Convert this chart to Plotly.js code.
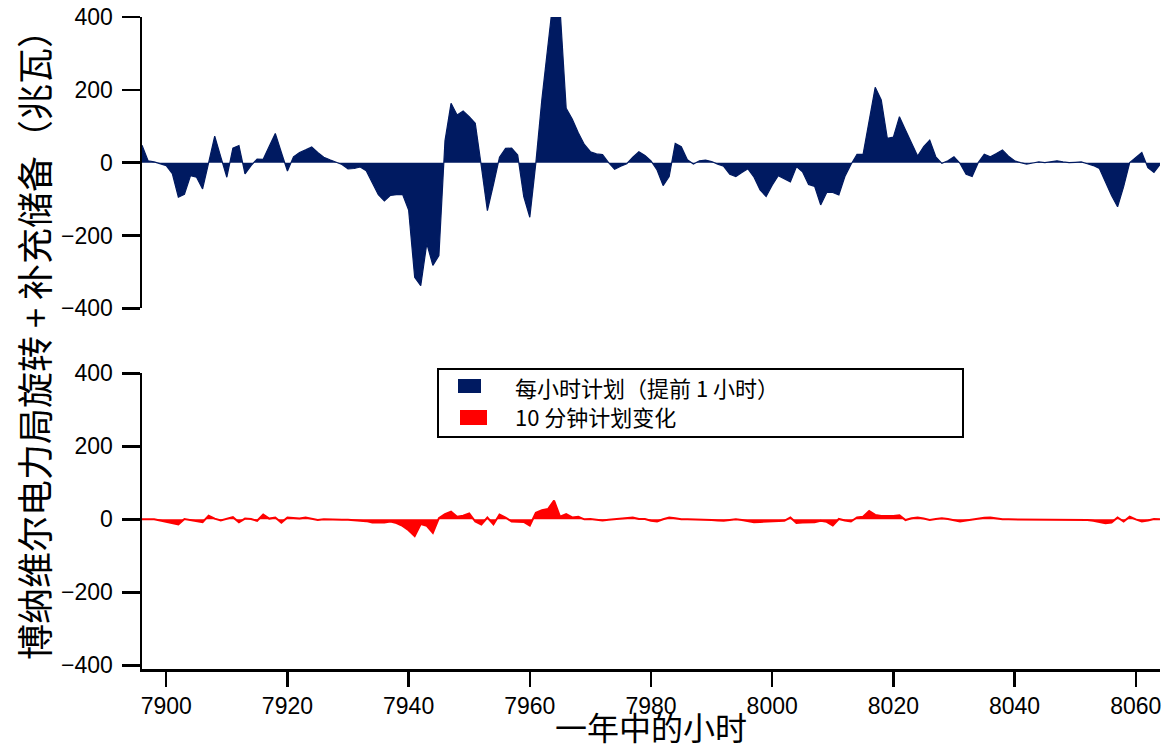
<!DOCTYPE html>
<html>
<head>
<meta charset="utf-8">
<script src="https://cdn.plot.ly/plotly-3.0.1.min.js"></script>
<style>
  html, body { margin: 0; padding: 0; background: #ffffff; }
  #chart { width: 1167px; height: 749px; }
</style>
</head>
<body>
<div id="chart"></div>
<script>
// Hour of the year covered by both panels
const startHour = 7896;

// Hourly schedule (1 hour ahead), MW, one value per hour from startHour
const hourlySchedule = [
  48, 5, 2, -2, -8, -30, -95, -87, -36, -40,
  -72, 0, 73, 16, -40, 40, 47, -31, -8, 10,
  9, 45, 80, 28, -23, 16, 28, 35, 43, 28,
  15, 8, 2, -5, -17, -16, -12, -22, -55, -88,
  -105, -90, -88, -87, -130, -315, -338, -222, -282, -255,
  60, 163, 131, 142, 126, 108, -10, -132, -60, 15,
  39, 40, 21, -93, -150, 0, 175, 330, 470, 420,
  149, 120, 82, 50, 30, 24, 22, 0, -18, -10,
  -3, 15, 30, 20, 5, -20, -63, -38, 53, 44,
  8, -4, 5, 7, 3, -4, -10, -32, -38, -27,
  -17, -40, -75, -93, -62, -36, -45, -53, -11, -25,
  -60, -65, -116, -82, -82, -89, -38, -5, 23, 23,
  115, 207, 172, 67, 70, 126, 90, 55, 18, 44,
  62, 16, -2, 5, 16, -2, -32, -38, 0, 23,
  16, 25, 35, 18, 5, 0, -4, -1, 2, 0,
  3, 5, 2, 0, 1, 2, -3, -8, -16, -55,
  -90, -121, -66, 0, 14, 28, -14, -27, -5
];

// 10-minute schedule change, MW, one value per hour from startHour
const tenMinuteChange = [
  0, 0, 0, -3, -6, -10, -14, 1, -2, -5,
  -8, 10, 2, -3, 2, 6, -8, 2, 1, -4,
  13, 2, 5, -9, 5, 3, 2, 5, 1, -2,
  0, -1, 0, -1, -1, -2, -2, -5, -9, -9,
  -9, -6, -10, -18, -30, -46, -13, -18, -37, 3,
  14, 21, 7, 10, 16, -6, -14, 5, -14, 13,
  5, -6, -6, -7, -17, 18, 25, 28, 51, 7,
  14, 5, 7, 0, 1, -1, -3, -1, 1, 2,
  3, 5, 1, 1, -4, -6, 0, 5, 3, 0,
  0, 0, 0, -1, -2, -3, -4, -2, 0, -2,
  -6, -8, -7, -6, -5, -4, -4, 5, -10, -9,
  -9, -8, -4, -7, -17, 1, -3, -6, 5, 7,
  23, 12, 9, 8, 9, 11, -2, 3, 5, 2,
  -2, 1, 3, 1, -2, -6, -3, 0, 2, 4,
  5, 2, 0, 0, 0, 0, 0, 0, 0, 0,
  0, 0, 0, 0, 0, 0, -2, -4, -7, -11,
  -9, 5, -6, 7, 0, -6, -3, 1, 0
];

const hours = hourlySchedule.map((_, i) => startHour + i);

// Axis ticks and labels
const xTickValues = [7900, 7920, 7940, 7960, 7980, 8000, 8020, 8040, 8060];
const yTickValues = [-400, -200, 0, 200, 400];

const seriesNames = ['每小时计划（提前 1 小时）', '10 分钟计划变化'];
const yTitleText = '博纳维尔电力局旋转 + 补充储备（兆瓦）';
const xTitleText = '一年中的小时';

const navy = '#001a61';
const red = '#ff0000';

// Page geometry (px)
const W = 1167, H = 749;
const M = { l: 142, r: 7, t: 17, b: 80 };
const plotW = W - M.l - M.r, plotH = H - M.t - M.b;
const px = x => (x - M.l) / plotW;            // page x -> paper x
const py = y => (H - M.b - y) / plotH;        // page y -> paper y

const latin = 'Liberation Sans, Arial, sans-serif';
const cjk = 'Noto Sans CJK SC, Liberation Sans, sans-serif';

const traces = [
  {
    x: hours, y: hourlySchedule, xaxis: 'x', yaxis: 'y',
    type: 'scatter', mode: 'lines', fill: 'tozeroy',
    line: { color: navy, width: 1.2 }, fillcolor: navy,
    name: seriesNames[0], showlegend: false, hoverinfo: 'x+y'
  },
  {
    x: hours, y: tenMinuteChange, xaxis: 'x2', yaxis: 'y2',
    type: 'scatter', mode: 'lines', fill: 'tozeroy',
    line: { color: red, width: 2 }, fillcolor: red,
    name: seriesNames[1], showlegend: false, hoverinfo: 'x+y'
  }
];

const yCommon = {
  tickvals: yTickValues,
  ticks: 'outside', ticklen: 18, tickwidth: 2.5, tickcolor: '#000',
  ticklabelstandoff: 4,
  showline: true, linewidth: 2.5, linecolor: '#000',
  showgrid: false, zeroline: false,
  tickfont: { family: latin, size: 23, color: '#000' },
  fixedrange: true
};

const layout = {
  width: W, height: H,
  margin: M,
  paper_bgcolor: '#fff', plot_bgcolor: '#fff',
  showlegend: false,
  xaxis: {
    domain: [0, 1], range: [7896, 8064], anchor: 'y',
    matches: 'x2', showline: false, showticklabels: false, ticks: '',
    showgrid: false, zeroline: false
  },
  yaxis: Object.assign({}, yCommon, {
    domain: [py(308.3), 1], range: [-400, 400], anchor: 'x'
  }),
  xaxis2: {
    domain: [0, 1], range: [7896, 8064], anchor: 'y2',
    tickvals: xTickValues,
    ticks: 'outside', ticklen: 15, tickwidth: 2.5, tickcolor: '#000',
    showline: true, linewidth: 2.5, linecolor: '#000',
    showgrid: false, zeroline: false,
    tickfont: { family: latin, size: 23, color: '#000' }
  },
  yaxis2: Object.assign({}, yCommon, {
    domain: [0, py(373.3)], range: [-410, 400], anchor: 'x2'
  }),
  annotations: [
    {
      text: yTitleText, textangle: -90,
      xref: 'paper', yref: 'paper', x: px(33), y: py(336),
      xanchor: 'center', yanchor: 'middle', showarrow: false,
      font: { family: cjk, size: 36, color: '#000' }
    },
    {
      text: xTitleText,
      xref: 'paper', yref: 'paper', x: px(651), y: py(726),
      xanchor: 'center', yanchor: 'middle', showarrow: false,
      font: { family: cjk, size: 32, color: '#000' }
    },
    // legend entries, one line per series
    {
      text: seriesNames.join('<br>'), align: 'left',
      xref: 'paper', yref: 'paper', x: px(513), y: py(401.5),
      xanchor: 'left', yanchor: 'middle', showarrow: false,
      font: { family: cjk, size: 22, color: '#000' }
    }
  ],
  shapes: [
    // legend frame
    {
      type: 'rect', xref: 'paper', yref: 'paper',
      x0: px(438), x1: px(963), y0: py(437), y1: py(369),
      line: { color: '#000', width: 2 }, fillcolor: '#fff', layer: 'above'
    },
    // legend swatches
    {
      type: 'rect', xref: 'paper', yref: 'paper',
      x0: px(458), x1: px(481), y0: py(393), y1: py(379),
      line: { width: 0 }, fillcolor: navy, layer: 'above'
    },
    {
      type: 'rect', xref: 'paper', yref: 'paper',
      x0: px(460), x1: px(487), y0: py(425), y1: py(410),
      line: { width: 0 }, fillcolor: red, layer: 'above'
    }
  ]
};

Plotly.newPlot('chart', traces, layout, { displayModeBar: false, staticPlot: true });
</script>
</body>
</html>
